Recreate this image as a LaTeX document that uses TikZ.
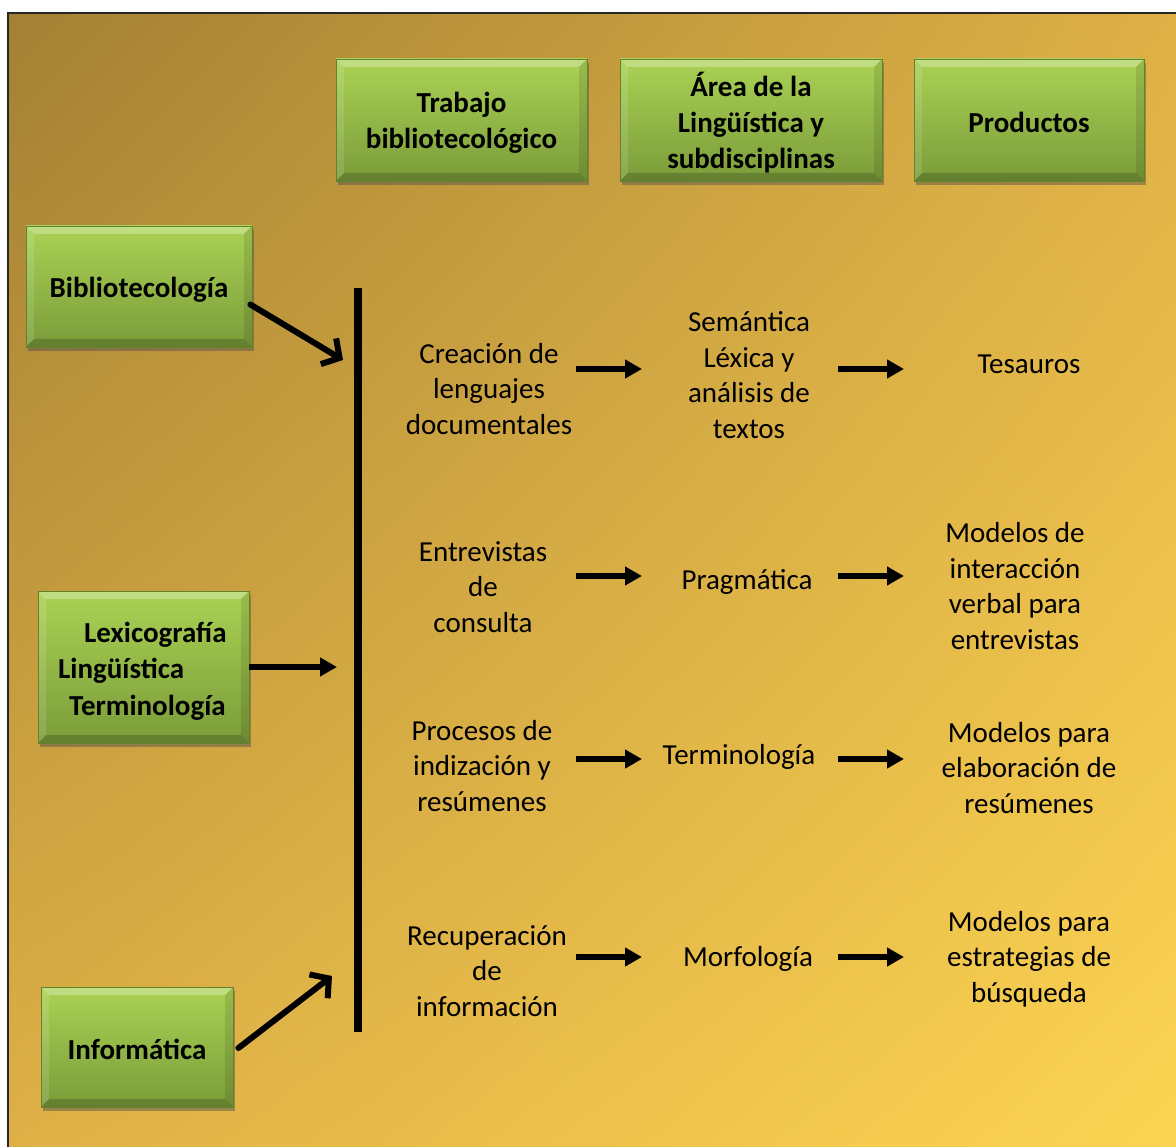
\documentclass[tikz,border=0pt]{standalone}
\usepackage{fontspec}
\setmainfont{Carlito}
\usetikzlibrary{arrows.meta,shadows,shadings}
\definecolor{bgA}{RGB}{163,128,52}
\definecolor{bgB}{RGB}{222,176,70}
\definecolor{bgC}{RGB}{252,212,82}
\definecolor{gTop}{RGB}{170,210,84}
\definecolor{gBot}{RGB}{122,156,58}
\definecolor{gEdge}{RGB}{100,130,45}
\tikzset{
  gbox/.style={rectangle, inner sep=0pt, draw=gEdge, line width=0.8pt,
    top color=gTop, bottom color=gBot,
    drop shadow={shadow xshift=2pt, shadow yshift=-4pt, opacity=0.45, fill=black!70},
    path picture={
      \fill[white,opacity=0.28] (path picture bounding box.north west) -- (path picture bounding box.north east)
        -- ([shift={(-8pt,-8pt)}]path picture bounding box.north east) -- ([shift={(8pt,-8pt)}]path picture bounding box.north west) -- cycle;
      \fill[white,opacity=0.12] (path picture bounding box.north west) -- ([shift={(8pt,-8pt)}]path picture bounding box.north west)
        -- ([shift={(8pt,8pt)}]path picture bounding box.south west) -- (path picture bounding box.south west) -- cycle;
      \fill[black,opacity=0.10] (path picture bounding box.north east) -- ([shift={(-8pt,-8pt)}]path picture bounding box.north east)
        -- ([shift={(-8pt,8pt)}]path picture bounding box.south east) -- (path picture bounding box.south east) -- cycle;
      \fill[black,opacity=0.18] (path picture bounding box.south west) -- ([shift={(8pt,8pt)}]path picture bounding box.south west)
        -- ([shift={(-8pt,8pt)}]path picture bounding box.south east) -- (path picture bounding box.south east) -- cycle;
    }},
  btxt/.style={font=\bfseries\fontsize{29}{36}\selectfont, align=center, inner sep=0pt},
  txt/.style={font=\fontsize{29}{35.7}\selectfont, align=center, inner sep=0pt},
  harrow/.style={line width=6pt, -{Triangle[length=17pt,width=18pt]}},
  darrow/.style={line width=6pt, line cap=round, -{Straight Barb[length=13pt,width=30pt,line width=6pt]}},
}
\begin{document}
\begin{tikzpicture}[x=1pt,y=-1pt]
\useasboundingbox (0,0) rectangle (1176,1147);
\fill[white] (0,0) rectangle (1176,1147);
\shade[upper left=bgA, upper right=bgB, lower left=bgB, lower right=bgC] (8,13) rectangle (1176,1147);
\draw[line width=1.6pt, black!85] (8,1147) -- (8,13) -- (1176,13);

% header boxes
\node[gbox, minimum width=251pt, minimum height=122pt] (h1) at (461.5,120) {};
\node[btxt] (h1t) at ([yshift=-3pt]h1.center) {Trabajo\\bibliotecológico};
\node[gbox, minimum width=262pt, minimum height=122pt] (h2) at (751,120) {};
\node[btxt] (h2t) at ([yshift=-3pt]h2.center) {Área de la\\Lingüística y\\subdisciplinas};
\node[gbox, minimum width=230pt, minimum height=122pt] (h3) at (1029,120) {};
\node[btxt] (h3t) at ([yshift=-2pt]h3.center) {Productos};

% left boxes
\node[gbox, minimum width=226pt, minimum height=121pt] (bib) at (139,286.5) {};
\node[btxt] (bibt) at ([yshift=-3pt]bib.center) {Bibliotecología};
\node[gbox, minimum width=211pt, minimum height=152pt] (lex) at (143.5,667) {};
\node[btxt, font=\bfseries\fontsize{29}{36.5}\selectfont, align=left, anchor=west] (lext) at (58,671)
  {\hspace*{26pt}Lexicografía\\Lingüística\\\hspace*{11pt}Terminología};
\node[gbox, minimum width=192pt, minimum height=120pt] (inf) at (137,1047) {};
\node[btxt] (inft) at ([yshift=-2pt]inf.center) {Informática};

% vertical bar
\coordinate (bartop) at (358,288);
\coordinate (barbot) at (358,1032);
\draw[line width=7.5pt] (bartop) -- (barbot);

% left arrows
\coordinate (t1) at (343,360);
\coordinate (t2) at (337,667);
\coordinate (t3) at (332,976);
\draw[darrow] ([shift={(-2pt,-18pt)}]bib.east) -- (t1);
\draw[harrow] (lex.east) -- (t2);
\draw[darrow] ([shift={(5pt,-1pt)}]inf.east) -- (t3);

% row 1
\node[txt] (r1a) at (489,389) {Creación de\\lenguajes\\documentales};
\node[txt] (r1b) at (749,375) {Semántica\\Léxica y\\análisis de\\textos};
\node[txt] (r1c) at (1029,364) {Tesauros};
% row 2
\node[txt] (r2a) at (483,587) {Entrevistas\\de\\consulta};
\node[txt] (r2b) at (747,582) {Pragmática};
\node[txt] (r2c) at (1015,586) {Modelos de\\interacción\\verbal para\\entrevistas};
% row 3
\node[txt] (r3a) at (482,766) {Procesos de\\indización y\\resúmenes};
\node[txt] (r3b) at (739,757) {Terminología};
\node[txt] (r3c) at (1029,768) {Modelos para\\elaboración de\\resúmenes};
% row 4
\node[txt] (r4a) at (487,971) {Recuperación\\de\\información};
\node[txt] (r4b) at (748,959) {Morfología};
\node[txt] (r4c) at (1029,959) {Modelos para\\estrategias de\\búsqueda};

% row arrows
\foreach \i/\y in {1/369,2/576,3/759,4/957}{
  \coordinate (p\i a) at (576,\y);
  \coordinate (p\i b) at (642,\y);
  \coordinate (q\i a) at (838,\y);
  \coordinate (q\i b) at (904,\y);
  \draw[harrow] (p\i a) -- (p\i b);
  \draw[harrow] (q\i a) -- (q\i b);
}
\end{tikzpicture}
\end{document}
